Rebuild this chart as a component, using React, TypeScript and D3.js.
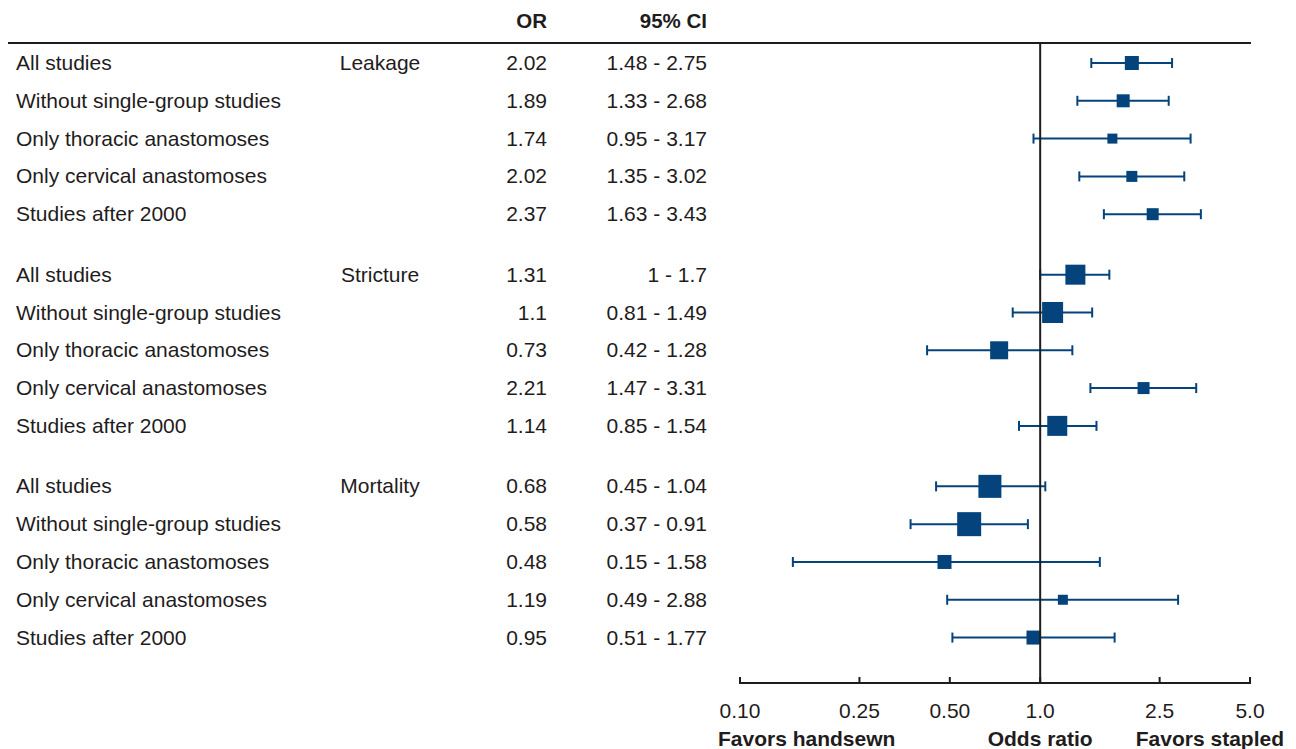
import * as d3 from "d3";
import React, { useEffect, useRef } from "react";

// one row per analysis, three outcome groups of five
const OUTCOMES = ["Leakage", "Stricture", "Mortality"];
const ANALYSES = [
  "All studies",
  "Without single-group studies",
  "Only thoracic anastomoses",
  "Only cervical anastomoses",
  "Studies after 2000",
];
const OR_VALUES = [
  [2.02, 1.89, 1.74, 2.02, 2.37],
  [1.31, 1.1, 0.73, 2.21, 1.14],
  [0.68, 0.58, 0.48, 1.19, 0.95],
];
const CI_LOW = [
  [1.48, 1.33, 0.95, 1.35, 1.63],
  [1, 0.81, 0.42, 1.47, 0.85],
  [0.45, 0.37, 0.15, 0.49, 0.51],
];
const CI_HIGH = [
  [2.75, 2.68, 3.17, 3.02, 3.43],
  [1.7, 1.49, 1.28, 3.31, 1.54],
  [1.04, 0.91, 1.58, 2.88, 1.77],
];
// relative study weight -> marker size
const WEIGHTS = [
  [14, 13, 10, 11, 12],
  [20, 21, 18, 12, 20],
  [23, 24, 14, 10, 14],
];
const TICKS = [0.1, 0.25, 0.5, 1.0, 2.5, 5.0];
const TICK_LABELS = ["0.10", "0.25", "0.50", "1.0", "2.5", "5.0"];

const W = 1296;
const H = 749;
const BLUE = "#04437c";
const INK = "#1f1c1d";
const FONT = "'Liberation Sans', Arial, Helvetica, sans-serif";

export default function App() {
  const svgRef = useRef<SVGSVGElement | null>(null);

  useEffect(() => {
    const svg = d3.select(svgRef.current);
    svg.selectAll("*").remove();

    const x = d3.scaleLog().domain([0.1, 5]).range([740, 1250]);
    // rows: 5 per group, groups separated by extra gap
    const y = d3.scaleLinear().domain([0, 1]).range([63, 63 + 37.8]);
    const rowPos = (g: number, i: number) => y(g * 5.6 + i);

    const rows: { g: number; i: number; or: number; lo: number; hi: number; w: number }[] = [];
    OUTCOMES.forEach((_, g) => {
      ANALYSES.forEach((_, i) => {
        rows.push({ g, i, or: OR_VALUES[g][i], lo: CI_LOW[g][i], hi: CI_HIGH[g][i], w: WEIGHTS[g][i] });
      });
    });

    const root = svg.append("g").style("font-family", FONT).attr("fill", INK);

    // header
    root.append("text").attr("x", 547).attr("y", 23).attr("text-anchor", "end")
      .attr("dominant-baseline", "middle").attr("font-size", 20.5).attr("font-weight", 700).text("OR");
    root.append("text").attr("x", 707).attr("y", 23).attr("text-anchor", "end")
      .attr("dominant-baseline", "middle").attr("font-size", 20.5).attr("font-weight", 700).text("95% CI");
    root.append("line").attr("x1", 8).attr("x2", 1251).attr("y1", 43).attr("y2", 43)
      .attr("stroke", INK).attr("stroke-width", 2);

    // text columns
    const ty = (d: { g: number; i: number }) => rowPos(d.g, d.i) + 1.5;
    const txt = root.append("g").attr("font-size", 21).attr("dominant-baseline", "middle");
    txt.selectAll("text.lab").data(rows).join("text").attr("class", "lab")
      .attr("x", 16).attr("y", ty).text(d => ANALYSES[d.i]);
    txt.selectAll("text.out").data(rows.filter(d => d.i === 0)).join("text").attr("class", "out")
      .attr("x", 380).attr("y", ty).attr("text-anchor", "middle").text(d => OUTCOMES[d.g]);
    txt.selectAll("text.or").data(rows).join("text").attr("class", "or")
      .attr("x", 547).attr("y", ty).attr("text-anchor", "end").text(d => String(d.or));
    txt.selectAll("text.ci").data(rows).join("text").attr("class", "ci")
      .attr("x", 707).attr("y", ty).attr("text-anchor", "end").text(d => `${d.lo} - ${d.hi}`);

    // error bars
    const bars = root.append("g").attr("stroke", BLUE).attr("stroke-width", 2);
    bars.selectAll("line.ci").data(rows).join("line")
      .attr("x1", d => x(d.lo)).attr("x2", d => x(d.hi))
      .attr("y1", d => rowPos(d.g, d.i)).attr("y2", d => rowPos(d.g, d.i));
    bars.selectAll("line.capl").data(rows).join("line")
      .attr("x1", d => x(d.lo)).attr("x2", d => x(d.lo))
      .attr("y1", d => rowPos(d.g, d.i) - 5).attr("y2", d => rowPos(d.g, d.i) + 5);
    bars.selectAll("line.caph").data(rows).join("line")
      .attr("x1", d => x(d.hi)).attr("x2", d => x(d.hi))
      .attr("y1", d => rowPos(d.g, d.i) - 5).attr("y2", d => rowPos(d.g, d.i) + 5);

    root.append("g").selectAll("rect").data(rows).join("rect")
      .attr("x", d => x(d.or) - d.w / 2).attr("y", d => rowPos(d.g, d.i) - d.w / 2)
      .attr("width", d => d.w).attr("height", d => d.w).attr("fill", BLUE);

    // null line
    root.append("line").attr("x1", x(1)).attr("x2", x(1)).attr("y1", 43).attr("y2", 683)
      .attr("stroke", INK).attr("stroke-width", 2);

    // axis
    const axis = root.append("g");
    axis.append("line").attr("x1", x(0.1)).attr("x2", x(5)).attr("y1", 683).attr("y2", 683)
      .attr("stroke", INK).attr("stroke-width", 2);
    axis.selectAll("line.tick").data(TICKS).join("line").attr("class", "tick")
      .attr("x1", d => x(d)).attr("x2", d => x(d)).attr("y1", 677).attr("y2", 684)
      .attr("stroke", INK).attr("stroke-width", 2);
    axis.selectAll("text").data(TICKS).join("text")
      .attr("x", d => x(d)).attr("y", 712).attr("text-anchor", "middle")
      .attr("dominant-baseline", "middle").attr("font-size", 21)
      .text((_, i) => TICK_LABELS[i]);

    const foot = root.append("g").attr("font-size", 21).attr("font-weight", 700).attr("dominant-baseline", "middle");
    foot.append("text").attr("x", 718).attr("y", 740).text("Favors handsewn");
    foot.append("text").attr("x", x(1)).attr("y", 740).attr("text-anchor", "middle").text("Odds ratio");
    foot.append("text").attr("x", 1284).attr("y", 740).attr("text-anchor", "end").text("Favors stapled");
  }, []);

  return (
    <svg
      ref={svgRef}
      width={W}
      height={H}
      style={{ position: "absolute", left: 0, top: 0, background: "#fff", display: "block" }}
    />
  );
}
